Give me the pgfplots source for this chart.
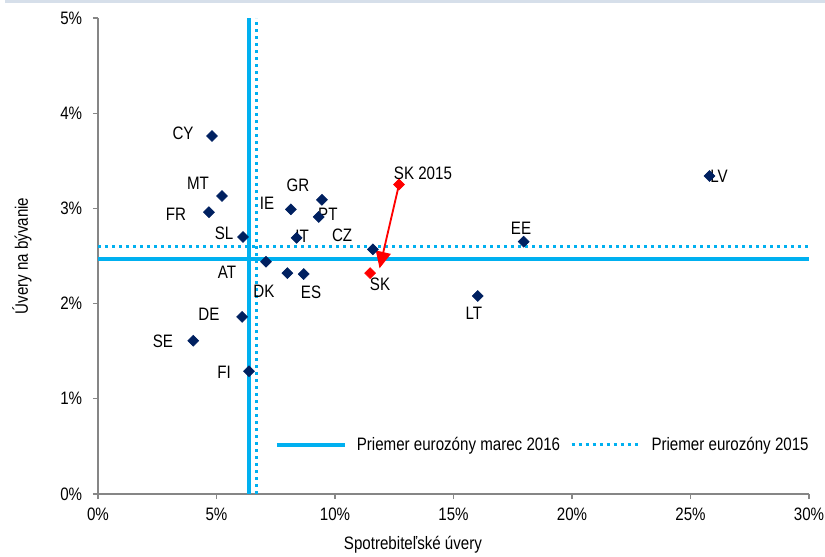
\documentclass[border=0pt]{standalone}
\usepackage{pgfplots}
\pgfplotsset{compat=1.18}
\usepackage{fontspec}
\setmainfont{Liberation Sans}[FakeStretch=0.84]
\usetikzlibrary{arrows.meta}
\definecolor{navy}{HTML}{002060}
\definecolor{cyanl}{HTML}{00B0F0}
\definecolor{bandc}{HTML}{D6DFEA}
\definecolor{axgray}{HTML}{868686}
\newcommand{\fs}{\fontsize{10.8}{13}\selectfont}
\begin{document}
\begin{tikzpicture}
\path[use as bounding box] (-58.8pt,-37.8pt) rectangle (436.2pt,296.4pt);
\fill[bandc] (-55.8pt,294.6pt) rectangle (436.2pt,296.4pt);
\begin{axis}[
  at={(0pt,0pt)}, anchor=south west,
  scale only axis, width=426.6pt, height=285.6pt,
  xmin=0, xmax=30, ymin=0, ymax=5,
  axis x line*=bottom, axis y line*=left,
  axis line style={draw=axgray, line width=1pt},
  tick align=outside, major tick length=3pt,
  tick style={draw=axgray, line width=0.8pt},
  xtick={0,5,...,30}, ytick={0,1,...,5},
  xticklabel={\pgfmathprintnumber{\tick}\%},
  yticklabel={\pgfmathprintnumber{\tick}\%},
  /pgf/number format/assume math mode=true,
  tick label style={font=\fs, text=black},
  yticklabel style={xshift=-3pt},
  xticklabel style={yshift=-2pt},
  xlabel={Spotrebiteľské úvery},
  ylabel={Úvery na bývanie},
  label style={font=\fs},
  xlabel style={at={(axis description cs:0.443,-0.107)}, anchor=center},
  ylabel style={at={(axis description cs:-0.107,0.5)}, anchor=center},
  clip=false,
  legend columns=2,
  legend style={draw=none, fill=none, at={(1,0.103)}, anchor=east, xshift=5pt,
    font=\fs, column sep=4pt},
  legend image code/.code={\draw[#1] (3pt,0pt) -- (44pt,0pt);},
]
% vertical reference lines
\addplot[cyanl, line width=2pt, forget plot] coordinates {(6.37,0) (6.37,5)};
\addplot[cyanl, line width=1.8pt, dash pattern=on 1.8pt off 2.4pt, forget plot] coordinates {(6.67,0) (6.67,5)};
% horizontal reference lines
\addplot[cyanl, line width=2pt] coordinates {(0,2.47) (30,2.47)};
\addlegendentry{Priemer eurozóny marec 2016}
\addplot[cyanl, line width=1.8pt, dash pattern=on 1.8pt off 2.4pt] coordinates {(0,2.60) (30,2.60)};
\addlegendentry{Priemer eurozóny 2015}
% arrow SK 2015 -> SK
\addplot[red, line width=1.1pt, -{Triangle[length=10pt,width=9pt]}, forget plot] coordinates {(12.70,3.25) (11.88,2.37)};
% countries
\addplot[only marks, mark=square*, mark size=2.3pt, mark options={rotate=45, fill=navy, draw=navy}, forget plot] coordinates {
(4.81,3.76) (5.23,3.13) (4.68,2.96) (6.12,2.70) (7.09,2.44)
(8.14,2.99) (9.45,3.09) (9.31,2.91) (8.38,2.69) (8.68,2.31)
(7.99,2.32) (11.60,2.57) (25.80,3.34) (17.96,2.65) (16.02,2.08)
(6.08,1.86) (4.02,1.61) (6.37,1.29)
};
% Slovakia
\addplot[only marks, mark=square*, mark size=2.3pt, mark options={rotate=45, fill=red, draw=red}, forget plot] coordinates {
(11.48,2.32) (12.70,3.25)
};
\begin{scope}[every node/.style={font=\fs, anchor=center, inner sep=0pt}]
\node at (axis cs:3.59,3.79) {CY};
\node at (axis cs:4.22,3.26) {MT};
\node at (axis cs:3.29,2.94) {FR};
\node at (axis cs:5.32,2.74) {SL};
\node at (axis cs:5.44,2.33) {AT};
\node at (axis cs:7.13,3.05) {IE};
\node at (axis cs:8.44,3.24) {GR};
\node at (axis cs:9.70,2.94) {PT};
\node at (axis cs:8.61,2.71) {IT};
\node at (axis cs:10.30,2.72) {CZ};
\node at (axis cs:7.00,2.13) {DK};
\node at (axis cs:8.99,2.12) {ES};
\node at (axis cs:11.90,2.20) {SK};
\node at (axis cs:13.71,3.37) {SK 2015};
\node at (axis cs:26.20,3.34) {LV};
\node at (axis cs:17.85,2.79) {EE};
\node at (axis cs:15.86,1.90) {LT};
\node at (axis cs:4.68,1.89) {DE};
\node at (axis cs:2.74,1.60) {SE};
\node at (axis cs:5.32,1.28) {FI};
\end{scope}
\end{axis}
\end{tikzpicture}
\end{document}
